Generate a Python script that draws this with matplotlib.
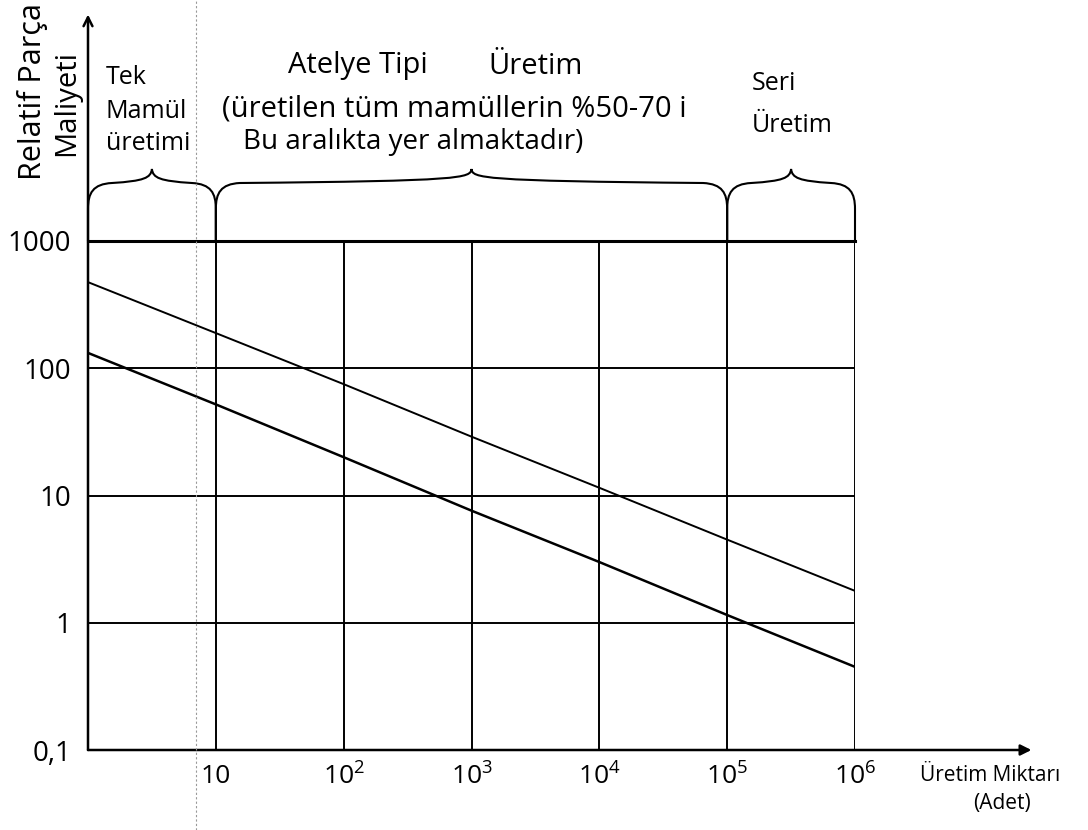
import numpy as np
import matplotlib
matplotlib.use('Agg')
import matplotlib.pyplot as plt
from matplotlib.path import Path
from matplotlib.patches import PathPatch
from matplotlib.lines import Line2D

plt.rcParams['font.family'] = ['Open Sans', 'DejaVu Sans']
plt.rcParams['mathtext.default'] = 'regular'

# production quantity (pieces) and relative part cost for the two lines
quantity = [1, 10, 1e2, 1e3, 1e4, 1e5, 1e6]
cost_upper = [475, 189, 75, 29, 11.5, 4.5, 1.78]
cost_lower = [132, 52, 20, 7.6, 3.0, 1.15, 0.45]

x_ticks = [10, 1e2, 1e3, 1e4, 1e5, 1e6]
x_ticklabels = ['10', '$10^2$', '$10^3$', '$10^4$', '$10^5$', '$10^6$']
y_ticks = [0.1, 1, 10, 100, 1000]
y_ticklabels = ['0,1', '1', '10', '100', '1000']

# production types and the quantity ranges they cover
region_bounds = [1, 10, 1e5, 1e6]

W, H = 1088, 830
fig = plt.figure(figsize=(W / 100, H / 100), dpi=100)
ax = fig.add_axes([88 / W, 80 / H, 767 / W, 509 / H])


def px(x, y):
    # pixel position (from top-left) -> figure fraction
    return x / W, 1 - y / H


ax.set_xscale('log')
ax.set_yscale('log')
ax.set_xlim(1, 1e6)
ax.set_ylim(0.1, 1000)
ax.minorticks_off()
for s in ax.spines.values():
    s.set_visible(False)

ax.set_xticks(x_ticks, x_ticklabels)
ax.set_yticks(y_ticks, y_ticklabels)
ax.tick_params(axis='both', length=0)
ax.tick_params(axis='x', pad=10, labelsize=19)
ax.tick_params(axis='y', pad=12, labelsize=20)

for xv in x_ticks:
    ax.axvline(xv, color='black', lw=1.4)
for yv in y_ticks[1:-1]:
    ax.axhline(yv, color='black', lw=1.4)
ax.axhline(y_ticks[-1], color='black', lw=2.2, clip_on=False)

ax.plot(quantity, cost_upper, color='black', lw=1.4)
ax.plot(quantity, cost_lower, color='black', lw=1.8)

# axes drawn as arrows
ax.annotate('', xy=(0, 1.445), xytext=(0, 0), xycoords='axes fraction',
            arrowprops=dict(arrowstyle='->', lw=1.8, color='black',
                            shrinkA=0, shrinkB=0, mutation_scale=16))
ax.annotate('', xy=(1.23, 0), xytext=(0, 0), xycoords='axes fraction',
            arrowprops=dict(arrowstyle='-|>', lw=1.8, color='black',
                            shrinkA=0, shrinkB=0, mutation_scale=16))

# curly braces over each production range
aw, ah = ax.bbox.width, ax.bbox.height
to_axes = ax.transAxes.inverted()


def brace(x0, x1):
    f0 = to_axes.transform(ax.transData.transform((x0, 1)))[0]
    f1 = to_axes.transform(ax.transData.transform((x1, 1)))[0]
    L = (f1 - f0) * aw
    m = L / 2
    pts = [(0, 0), (0, 32),
           (0, 48), (5, 57), (24, 58),
           (m - 8, 60), (m - 1, 63), (m, 72),
           (m + 1, 63), (m + 8, 60), (L - 24, 58),
           (L - 5, 57), (L, 48), (L, 32),
           (L, 0)]
    codes = [Path.MOVETO, Path.LINETO] + [Path.CURVE4] * 12 + [Path.LINETO]
    verts = [(f0 + p / aw, 1 + q / ah) for p, q in pts]
    ax.add_patch(PathPatch(Path(verts, codes), transform=ax.transAxes,
                           fill=False, lw=1.5, color='black', clip_on=False))


for a, b in zip(region_bounds[:-1], region_bounds[1:]):
    brace(a, b)

fs = 18
for i, t in enumerate(['Tek', 'Mamül', 'üretimi']):
    fig.text(*px(106, 78 + i * 33), t, fontsize=fs, va='center')
fig.text(*px(288, 66), 'Atelye Tipi', fontsize=21, va='center')
fig.text(*px(488, 66), 'Üretim', fontsize=21, va='center')
fig.text(*px(222, 109), '(üretilen tüm mamüllerin %50-70 i', fontsize=21, va='center')
fig.text(*px(243, 142), 'Bu aralıkta yer almaktadır)', fontsize=20, va='center')
fig.text(*px(752, 83), 'Seri', fontsize=fs, va='center')
fig.text(*px(752, 126), 'Üretim', fontsize=fs, va='center')

fig.text(*px(33, 92), 'Relatif Parça', fontsize=22, rotation=90,
         ha='center', va='center')
fig.text(*px(67, 103), 'Maliyeti', fontsize=21, rotation=90,
         ha='center', va='center')

fig.text(*px(990, 775), 'Üretim Miktarı', fontsize=15, ha='center', va='center')
fig.text(*px(1002, 803), '(Adet)', fontsize=15, ha='center', va='center')

# faint fold line across the sheet
fig.add_artist(Line2D([196 / W, 196 / W], [0, 1], color='0.6', lw=0.8,
                      ls=(0, (2, 2))))

fig.savefig('out.png', dpi=100)
